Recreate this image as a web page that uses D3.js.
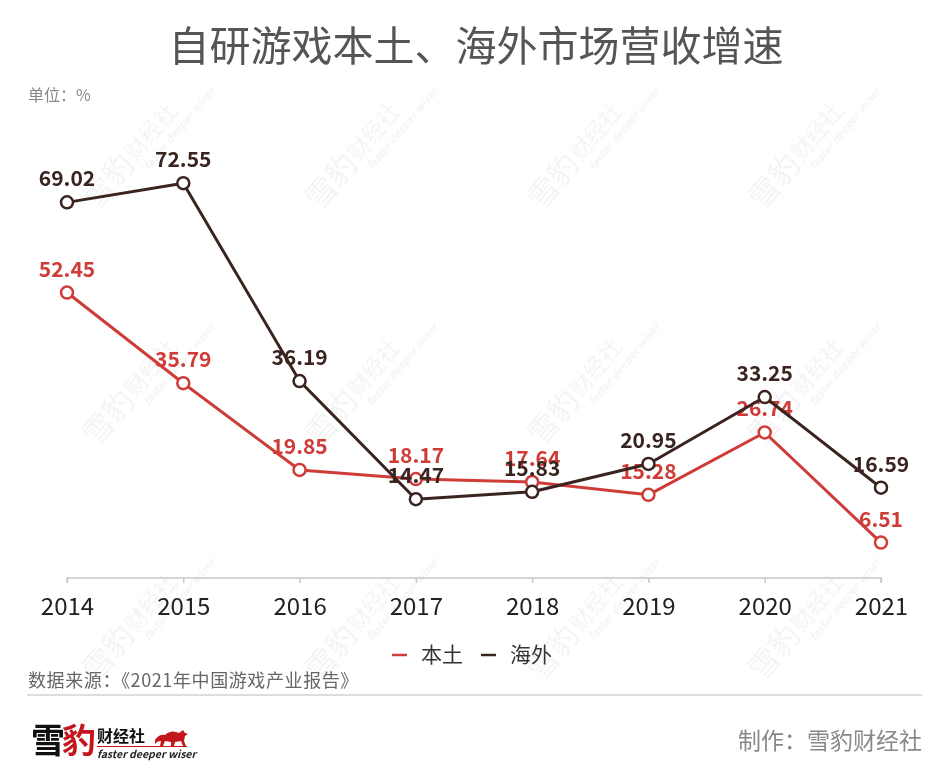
<!DOCTYPE html>
<html>
<head>
<meta charset="utf-8">
<script src="https://cdn.jsdelivr.net/npm/d3@7"></script>
<style>
  html, body { margin: 0; padding: 0; background: #fff; }
  svg { display: block; }
  text { font-family: "Noto Sans CJK SC", "Noto Sans", sans-serif; }
</style>
</head>
<body>
<svg id="chart" width="950" height="782"></svg>
<script>
const years = ["2014", "2015", "2016", "2017", "2018", "2019", "2020", "2021"];
const domestic = [52.45, 35.79, 19.85, 18.17, 17.64, 15.28, 26.74, 6.51];
const overseas = [69.02, 72.55, 36.19, 14.47, 15.83, 20.95, 33.25, 16.59];
const seriesNames = ["本土", "海外"];
const seriesColors = ["#cf3c38", "#3a2420"];

const svg = d3.select("#chart");
const W = 950, H = 782;

svg.append("rect").attr("width", W).attr("height", H).attr("fill", "#fff");

// watermarks
const wmX = [142, 365, 587, 808];
const wmY = [157, 393, 628];
const wm = svg.append("g").attr("opacity", 0.05);
wmY.forEach(y => wmX.forEach(x => {
  const g = wm.append("g").attr("transform", `translate(${x},${y}) rotate(-50)`);
  g.append("text").attr("x", -70).attr("y", 0).attr("font-size", 30).attr("font-weight", 400)
    .attr("fill", "#000").text("雪豹");
  g.append("text").attr("x", -8).attr("y", -2).attr("font-size", 22).attr("font-weight", 400)
    .attr("fill", "#000").text("财经社");
  g.append("text").attr("x", -6).attr("y", 14).attr("font-size", 11).attr("font-style", "italic")
    .attr("font-family", "Roboto, sans-serif").attr("font-weight", 700)
    .attr("fill", "#000").text("faster deeper wiser");
}));

// title
svg.append("text").attr("x", 476).attr("y", 61).attr("text-anchor", "middle")
  .attr("font-size", 41).attr("fill", "#555").text("自研游戏本土、海外市场营收增速");
svg.append("text").attr("x", 28).attr("y", 101).attr("font-size", 16).attr("fill", "#888")
  .text("单位：%");

// scales
const x = d3.scalePoint().domain(years).range([67, 881]);
const y = d3.scaleLinear().domain([0, 80]).range([578, 142.6]);

// axis
const axis = svg.append("g").attr("transform", "translate(0,578)")
  .call(d3.axisBottom(x).tickSize(5).tickSizeOuter(0).tickPadding(10));
axis.select(".domain").attr("stroke", "#c8c8c8").attr("stroke-width", 1.5)
  .attr("d", `M${x(years[0])},5V0H${x(years[years.length-1])}V5`);
axis.selectAll(".tick line").attr("stroke", "#c8c8c8").attr("stroke-width", 1.5);
axis.selectAll(".tick text").attr("font-size", 24).attr("fill", "#222")
  .attr("font-family", "'Noto Sans', 'Noto Sans CJK SC', sans-serif").attr("dy", "0.9em");

// series
const line = d3.line().x((d, i) => x(years[i])).y(d => y(d));
[domestic, overseas].forEach((vals, si) => {
  const c = seriesColors[si];
  const g = svg.append("g");
  g.selectAll("text.lbl").data(vals).join("text").attr("class", "lbl")
    .attr("x", (d, i) => x(years[i])).attr("y", d => y(d) - 16)
    .attr("text-anchor", "middle").attr("font-size", 21).attr("font-weight", 700)
    .attr("font-family", "Roboto, 'Liberation Sans', sans-serif")
    .attr("fill", c).text(d => d.toFixed(2));
  g.append("path").datum(vals).attr("d", line).attr("fill", "none")
    .attr("stroke", c).attr("stroke-width", 3).attr("stroke-linejoin", "round");
  g.selectAll("circle").data(vals).join("circle")
    .attr("cx", (d, i) => x(years[i])).attr("cy", d => y(d)).attr("r", 6)
    .attr("fill", "#fff").attr("stroke", c).attr("stroke-width", 2.5);
});

// legend
const legendX = [392, 481];
seriesNames.forEach((n, i) => {
  svg.append("line").attr("x1", legendX[i]).attr("x2", legendX[i] + 15)
    .attr("y1", 655).attr("y2", 655).attr("stroke", seriesColors[i]).attr("stroke-width", 2.5);
  svg.append("text").attr("x", legendX[i] + 29).attr("y", 662).attr("font-size", 21)
    .attr("fill", "#333").text(n);
});

// source
svg.append("text").attr("x", 28).attr("y", 687).attr("font-size", 18).attr("fill", "#666")
  .attr("letter-spacing", 0.6)
  .text("数据来源：《2021年中国游戏产业报告》");
svg.append("line").attr("x1", 27).attr("x2", 922).attr("y1", 695).attr("y2", 695)
  .attr("stroke", "#ddd").attr("stroke-width", 2);

// logo
const logo = svg.append("g");
logo.append("text").attr("x", 31).attr("y", 753).attr("font-size", 34).attr("font-weight", 700)
  .attr("fill", "#111").text("雪");
logo.append("text").attr("x", 62).attr("y", 753).attr("font-size", 34).attr("font-weight", 700)
  .attr("fill", "#c4161c").text("豹");
logo.append("text").attr("x", 97).attr("y", 742).attr("font-size", 16).attr("font-weight", 700)
  .attr("fill", "#111").text("财经社");
logo.append("line").attr("x1", 97).attr("x2", 187).attr("y1", 746.5).attr("y2", 746.5)
  .attr("stroke", "#c4161c").attr("stroke-width", 1);
logo.append("path")
  .attr("d", "M155,740 q4,-6 10,-5 q6,-6 14,-2 l4,-3 l2,3 l3,1 l-3,2 l-1,5 l2,5 l-3,0 l-2,-5 l-6,1 l-1,4 l-3,0 l0,-4 l-6,-1 l-2,5 l-3,0 l1,-5 q-4,0 -6,3 z")
  .attr("fill", "#c4161c");
logo.append("text").attr("x", 97).attr("y", 758).attr("font-size", 10.5).attr("font-weight", 700)
  .attr("font-style", "italic").attr("font-family", "Roboto, sans-serif").attr("fill", "#222")
  .text("faster deeper wiser");

// credit
svg.append("text").attr("x", 922).attr("y", 749).attr("text-anchor", "end")
  .attr("font-size", 23).attr("fill", "#888").text("制作：雪豹财经社");
</script>
</body>
</html>
